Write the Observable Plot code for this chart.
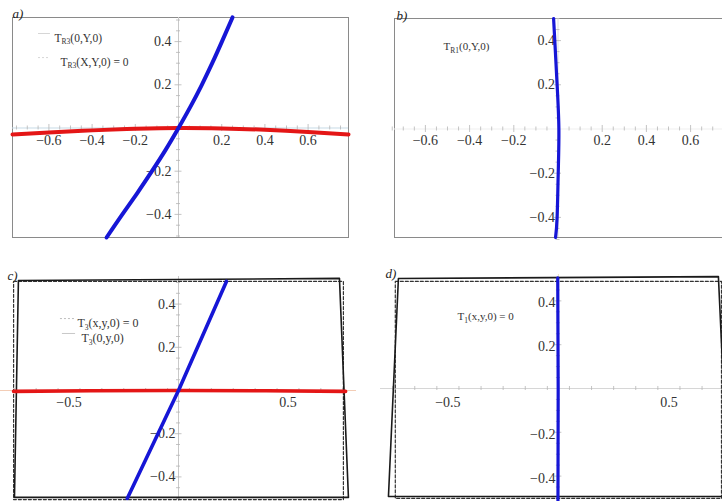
<!DOCTYPE html>
<html><head><meta charset="utf-8">
<script src="https://cdn.jsdelivr.net/npm/d3@7"></script>
<script src="https://cdn.jsdelivr.net/npm/@observablehq/plot@0.6"></script>
<style>
html,body{margin:0;padding:0;background:#fff;overflow:hidden;}
#root{position:relative;width:722px;height:501px;overflow:hidden;background:#fff;}
#root svg{position:absolute;max-width:none;}
</style></head><body><div id="root"></div>
<script>
// ---------- data ----------
// panel a
const aBlueY = [-0.507, -0.4, -0.3, -0.2, -0.1, 0, 0.1, 0.2, 0.3, 0.4, 0.512];
const aBlueX = [-0.333, -0.26, -0.19, -0.123, -0.059, 0, 0.056, 0.108, 0.156, 0.201, 0.25];
const aRedX = [-0.7685, -0.6, -0.4, -0.2, 0, 0.2, 0.4, 0.6, 0.787];
const aRedY = [-0.030, -0.021, -0.011, -0.004, 0, -0.002, -0.008, -0.018, -0.030];
// panel b
const bBlueY = [-0.491, -0.4, -0.2, 0, 0.2, 0.4, 0.5];
const bBlueX = [-0.011, -0.004, 0.001, 0.004, -0.004, -0.0145, -0.02];
// panel c
const cBlueY = [-0.5, 0, 0.505];
const cBlueX = [-0.234, 0, 0.219];
const cRedX = [-0.753, -0.4, 0, 0.4, 0.763];
const cRedY = [-0.004, -0.001, 0, -0.001, -0.004];
const cSolidX = [-0.731, 0.735, 0.776, -0.749, -0.731];
const cSolidY = [0.509, 0.519, -0.495, -0.495, 0.509];
const cDashX = [-0.753, 0.753, 0.753, -0.753, -0.753];
const cDashY = [0.505, 0.505, -0.505, -0.505, 0.505];
// panel d
const dBlueY = [-0.516, 0, 0.505];
const dBlueX = [-0.002, -0.001, -0.003];
const dSolidX = [-0.724, 0.724, 0.77, -0.769, -0.724];
const dSolidY = [0.502, 0.511, -0.493, -0.493, 0.502];
const dDashX = [-0.738, 0.738, 0.738, -0.738, -0.738];
const dDashY = [0.489, 0.489, -0.502, -0.502, 0.489];

// ticks
const abXTicks = [-0.6, -0.4, -0.2, 0.2, 0.4, 0.6];
const abXTickLabels = ["\u22120.6", "\u22120.4", "\u22120.2", "0.2", "0.4", "0.6"];
const cdXTicks = [-0.5, 0.5];
const cdXTickLabels = ["\u22120.5", "0.5"];
const yTicks = [-0.4, -0.2, 0.2, 0.4];
const yTickLabels = ["\u22120.4", "\u22120.2", "0.2", "0.4"];

// legend / annotation text
const aLegend = ["T_{R3}(0,Y,0)", "T_{R3}(X,Y,0) = 0"];
const bLegend = ["T_{R1}(0,Y,0)"];
const cLegend = ["T_{3}(x,y,0) = 0", "T_{3}(0,y,0)"];
const dLegend = ["T_{1}(x,y,0) = 0"];
const panelLabels = ["a)", "b)", "c)", "d)"];

// ---------- helpers ----------
const serif = "'Liberation Serif', 'DejaVu Serif', serif";
const BLUE = "#1616d6", RED = "#e41616";
const pts = (xs, ys) => xs.map((x, i) => ({x, y: ys[i]}));
const root = document.getElementById("root");

function subscriptify(svg) {
  const ns = "http://www.w3.org/2000/svg";
  svg.querySelectorAll("text").forEach(t => {
    const s = t.textContent;
    const m = s.match(/^(.*?)_\{(.*?)\}(.*)$/);
    if (!m) return;
    t.textContent = "";
    const a = document.createElementNS(ns, "tspan"); a.textContent = m[1];
    const b = document.createElementNS(ns, "tspan"); b.textContent = m[2];
    b.setAttribute("font-size", "7.5"); b.setAttribute("dy", "2.5");
    const c = document.createElementNS(ns, "tspan"); c.textContent = m[3];
    c.setAttribute("dy", "-2.5");
    t.append(a, b, c);
  });
}

function panel(o) {
  const plotW = o.width - o.ml - o.mr, plotH = o.height - o.mt - o.mb;
  const kx = (o.xDomain[1] - o.xDomain[0]) / plotW;
  const ky = (o.yDomain[1] - o.yDomain[0]) / plotH;
  const xMinor = d3.range(-0.75, 0.7501, o.xMinorStep).filter(v => Math.abs(v) > 1e-9);
  const yMinor = d3.range(-0.5, 0.5001, 0.05).filter(v => Math.abs(v) > 1e-9);
  const isMajX = v => o.xTicks.some(t => Math.abs(t - v) < 1e-9);
  const isMajY = v => yTicks.some(t => Math.abs(t - v) < 1e-9);
  const marks = [
    ...(o.frame ? [Plot.frame({stroke: "#8a8a8a", strokeWidth: 1})] : []),
    Plot.ruleY([0], {stroke: o.xAxisColor, strokeWidth: 1}),
    Plot.ruleX([0], {stroke: o.yAxisColor, strokeWidth: 1}),
    Plot.ruleX(xMinor, {x: d => d, y1: d => (isMajX(d) ? -3.5 : -2) * ky, y2: d => (isMajX(d) ? 3.5 : 2) * ky, stroke: "#b5b5b5", strokeWidth: 0.8}),
    Plot.ruleY(yMinor, {y: d => d, x1: d => (isMajY(d) ? -3.5 : -2) * kx, x2: d => (isMajY(d) ? 3.5 : 2) * kx, stroke: "#b5b5b5", strokeWidth: 0.8}),
    Plot.text(o.xTicks, {x: d => d, y: 0, text: (d, i) => o.xTickLabels[i], dy: o.xLabelDy, fontFamily: serif, fontSize: 14, fill: "#333"}),
    Plot.text(yTicks, {x: 0, y: d => d, text: (d, i) => yTickLabels[i], dx: o.yLabelDx, dy: o.yLabelDy || 0, textAnchor: "end", fontFamily: serif, fontSize: 14, fill: "#333"}),
    Plot.text([o.label], {frameAnchor: "top-left", text: d => d, dx: o.labelDx, dy: o.labelDy, textAnchor: "start", fontFamily: serif, fontStyle: "italic", fontSize: 13, fill: "#222"}),
    ...o.marks
  ];
  const svg = Plot.plot({
    width: o.width, height: o.height,
    marginLeft: o.ml, marginRight: o.mr, marginTop: o.mt, marginBottom: o.mb,
    x: {domain: o.xDomain, axis: null},
    y: {domain: o.yDomain, axis: null},
    style: {background: "transparent", overflow: "hidden"},
    marks
  });
  svg.style.left = o.left + "px";
  svg.style.top = o.top + "px";
  subscriptify(svg);
  root.appendChild(svg);
}

const legendText = (arr, offs, size = 11) => arr.map((s, i) => Plot.text([s], {frameAnchor: "top-left", text: d => d, dx: offs[i][0], dy: offs[i][1], textAnchor: "start", fontFamily: serif, fontSize: size, fill: "#333"}));

// ---------- panel a ----------
panel({
  left: 0, top: 0, width: 360, height: 250, ml: 12, mr: 12, mt: 17, mb: 13,
  xDomain: [-0.7685, 0.787], yDomain: [-0.507, 0.5116], frame: true,
  xTicks: abXTicks, xTickLabels: abXTickLabels, xMinorStep: 0.05,
  xLabelDy: 12.5, yLabelDx: -7, xAxisColor: "#c6dae6", yAxisColor: "#c8c8c8",
  label: panelLabels[0], labelDx: 0, labelDy: -9,
  marks: [
    Plot.ruleY([0.4375], {x1: -0.648, x2: -0.593, stroke: "#d6d6d6", strokeWidth: 1}),
    Plot.ruleY([0.326], {x1: -0.648, x2: -0.593, stroke: "#d6d6d6", strokeWidth: 1, strokeDasharray: "2,2"}),
    ...legendText(aLegend, [[42, 16], [48, 40]], 11.5),
    Plot.line(pts(aRedX, aRedY), {x: "x", y: "y", stroke: RED, strokeWidth: 4, curve: "natural"}),
    Plot.line(pts(aBlueX, aBlueY), {x: "x", y: "y", stroke: BLUE, strokeWidth: 4, curve: "natural"})
  ]
});

// ---------- panel b ----------
panel({
  left: 360, top: 0, width: 380, height: 250, ml: 34, mr: 10, mt: 18, mb: 13,
  xDomain: [-0.7398, 0.7805], yDomain: [-0.491, 0.5], frame: true,
  xTicks: abXTicks, xTickLabels: abXTickLabels, xMinorStep: 0.05,
  xLabelDy: 12, yLabelDx: -3, xAxisColor: "#efefef", yAxisColor: "#dddddd",
  label: panelLabels[1], labelDx: 2, labelDy: -8,
  marks: [
    ...legendText(bLegend, [[49, 24]]),
    Plot.line(pts(bBlueX, bBlueY), {x: "x", y: "y", stroke: BLUE, strokeWidth: 3.2, curve: "natural"})
  ]
});

// ---------- panel c ----------
panel({
  left: 0, top: 250, width: 360, height: 251, ml: 0, mr: 4, mt: 26, mb: 0,
  xDomain: [-0.8128, 0.8128], yDomain: [-0.5139, 0.5278], frame: false,
  xTicks: cdXTicks, xTickLabels: cdXTickLabels, xMinorStep: 0.1,
  xLabelDy: 12, yLabelDx: -3, xAxisColor: "#f3cdb6", yAxisColor: "#c8c8c8",
  label: panelLabels[2], labelDx: 7, labelDy: -6,
  marks: [
    Plot.ruleY([0.333], {x1: -0.539, x2: -0.470, stroke: "#bdbdbd", strokeWidth: 1, strokeDasharray: "2,2"}),
    Plot.ruleY([0.264], {x1: -0.530, x2: -0.470, stroke: "#c8c8c8", strokeWidth: 1}),
    ...legendText(cLegend, [[77, 42], [81, 57]], 12),
    Plot.line(pts(cDashX, cDashY), {x: "x", y: "y", stroke: "#333", strokeWidth: 1.2, strokeDasharray: "3,2"}),
    Plot.line(pts(cSolidX, cSolidY), {x: "x", y: "y", stroke: "#1a1a1a", strokeWidth: 1.6}),
    Plot.line(pts(cRedX, cRedY), {x: "x", y: "y", stroke: RED, strokeWidth: 3.6, curve: "natural"}),
    Plot.line(pts(cBlueX, cBlueY), {x: "x", y: "y", stroke: BLUE, strokeWidth: 3.6})
  ]
});

// ---------- panel d ----------
panel({
  left: 360, top: 250, width: 380, height: 251, ml: 20, mr: 0, mt: 24, mb: 0,
  xDomain: [-0.805, 0.824], yDomain: [-0.516, 0.5205], frame: false,
  xTicks: cdXTicks, xTickLabels: cdXTickLabels, xMinorStep: 0.1,
  xLabelDy: 14, yLabelDx: -3, yLabelDy: 2, xAxisColor: "#d6d6d6", yAxisColor: "#ece4c4",
  label: panelLabels[3], labelDx: 5, labelDy: -6,
  marks: [
    ...legendText(dLegend, [[77, 38]]),
    Plot.line(pts(dDashX, dDashY), {x: "x", y: "y", stroke: "#333", strokeWidth: 1.2, strokeDasharray: "3,2"}),
    Plot.line(pts(dSolidX, dSolidY), {x: "x", y: "y", stroke: "#1a1a1a", strokeWidth: 1.6}),
    Plot.line(pts(dBlueX, dBlueY), {x: "x", y: "y", stroke: BLUE, strokeWidth: 3.2, curve: "natural"})
  ]
});
</script></body></html>
